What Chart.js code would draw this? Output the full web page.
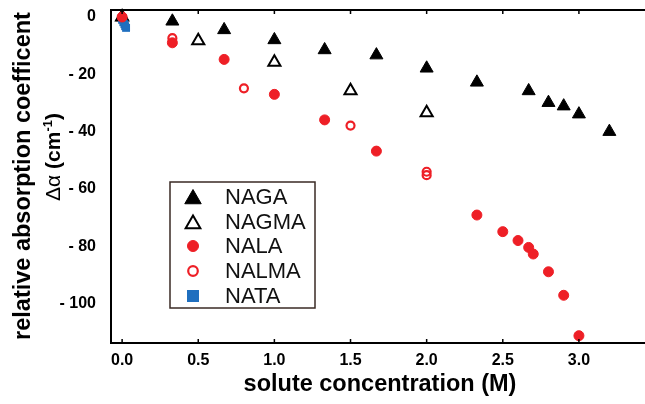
<!DOCTYPE html>
<html>
<head>
<meta charset="utf-8">
<script src="https://cdn.jsdelivr.net/npm/chart.js@4/dist/chart.umd.min.js"></script>
<style>
  html, body { margin: 0; padding: 0; background: #fff; overflow: hidden; }
  #wrap { width: 645px; height: 404px; overflow: hidden; }
  canvas { display: block; }
</style>
</head>
<body>
<div id="wrap"><canvas id="c" width="645" height="404"></canvas></div>
<script>
// ---- data ----
const seriesNames = ["NAGA", "NAGMA", "NALA", "NALMA", "NATA"];

const nagaX  = [0, 0.33, 0.67, 1.0, 1.33, 1.67, 2.0, 2.33, 2.67, 2.8, 2.9, 3.0, 3.2];
const nagaY  = [0, -1.5, -4.5, -8.0, -11.5, -13.3, -17.9, -22.8, -25.8, -29.9, -31.1, -33.9, -40.0];

const nagmaX = [0, 0.5, 1.0, 1.5, 2.0];
const nagmaY = [0, -8.3, -15.8, -25.7, -33.4];

const nalaX  = [0, 0.33, 0.67, 1.0, 1.33, 1.67, 2.33, 2.5, 2.6, 2.67, 2.7, 2.8, 2.9, 3.0];
const nalaY  = [0, -9.0, -14.8, -27.0, -35.9, -46.8, -69.1, -74.9, -78.0, -80.4, -82.7, -88.9, -97.1, -111.2];

const nalmaX = [0, 0.33, 0.8, 1.5, 2.0, 2.0];
const nalmaY = [0, -7.4, -24.9, -37.9, -54.0, -55.2];

const nataX  = [0, 0.008, 0.015, 0.02, 0.026];
const nataY  = [-1.0, -1.8, -2.5, -3.2, -3.8];

const xTicks = [0, 0.5, 1.0, 1.5, 2.0, 2.5, 3.0];
const yTicks = [0, -20, -40, -60, -80, -100];

const xTitle = "solute concentration (M)";
const yTitle1 = "relative absorption coefficent";

// ---- build ----
const pts = (xs, ys) => xs.map((x, i) => ({ x: x, y: ys[i] }));
const RED = '#ee1f26';
const BLUE = '#1f6fbf';
const FAM = '"Liberation Sans", Arial, sans-serif';

const datasets = [
  { label: seriesNames[0], data: pts(nagaX, nagaY), pointStyle: 'triangle', pointRadius: 7.5,
    backgroundColor: '#000', borderColor: '#000', borderWidth: 1, order: 3,
    legendRadius: 9.5 },
  { label: seriesNames[1], data: pts(nagmaX, nagmaY), pointStyle: 'triangle', pointRadius: 7,
    backgroundColor: 'rgba(255,255,255,0)', borderColor: '#000', borderWidth: 2, order: 4,
    legendRadius: 8.5 },
  { label: seriesNames[2], data: pts(nalaX, nalaY), pointStyle: 'circle', pointRadius: 5,
    backgroundColor: RED, borderColor: RED, borderWidth: 1, order: 0,
    legendRadius: 5.5 },
  { label: seriesNames[3], data: pts(nalmaX, nalmaY), pointStyle: 'circle', pointRadius: 4,
    backgroundColor: 'rgba(255,255,255,0)', borderColor: RED, borderWidth: 2.2, order: 1,
    legendRadius: 4.8 },
  { label: seriesNames[4], data: pts(nataX, nataY), pointStyle: 'rect', pointRadius: 5.6,
    backgroundColor: BLUE, borderColor: BLUE, borderWidth: 0, order: 2,
    legendRadius: 8.5 }
];
datasets.forEach(d => { d.showLine = false; d.clip = false; d.pointHoverRadius = d.pointRadius; });

const noPad = s => { s.paddingTop = 0; s.paddingBottom = 0; s.paddingLeft = 0; s.paddingRight = 0; };

const decor = {
  id: 'decor',
  afterDraw(chart) {
    const ctx = chart.ctx;
    const a = chart.chartArea;
    const xs = chart.scales.x;
    ctx.save();
    // top frame line
    ctx.strokeStyle = '#000';
    ctx.lineWidth = 2;
    ctx.beginPath();
    ctx.moveTo(a.left - 1, a.top);
    ctx.lineTo(chart.width, a.top);
    ctx.stroke();
    // inward tick marks on top and bottom
    ctx.lineWidth = 1.5;
    xTicks.forEach(v => {
      const px = xs.getPixelForValue(v);
      ctx.beginPath();
      ctx.moveTo(px, a.top); ctx.lineTo(px, a.top + 4);
      ctx.moveTo(px, a.bottom); ctx.lineTo(px, a.bottom - 4);
      ctx.stroke();
    });

    // axis titles
    ctx.fillStyle = '#000';
    ctx.textAlign = 'center';
    ctx.textBaseline = 'middle';
    ctx.font = 'bold 23.5px ' + FAM;
    ctx.fillText(xTitle, 380, 385);

    ctx.save();
    ctx.translate(24, 176);
    ctx.rotate(-Math.PI / 2);
    ctx.fillText(yTitle1, 0, 0);
    ctx.restore();

    // second y-title line: Δα (cm-1) with superscript
    ctx.save();
    ctx.translate(52, 157);
    ctx.rotate(-Math.PI / 2);
    const parts = [
      { t: 'Δα ', f: '21px ' + FAM, dy: 0 },
      { t: '(cm', f: 'bold 21px ' + FAM, dy: 0 },
      { t: '-1', f: 'bold 13px ' + FAM, dy: -8 },
      { t: ')', f: 'bold 21px ' + FAM, dy: 0 }
    ];
    let total = 0;
    parts.forEach(p => { ctx.font = p.f; p.w = ctx.measureText(p.t).width; total += p.w; });
    let cx = -total / 2;
    ctx.textAlign = 'left';
    ctx.textBaseline = 'alphabetic';
    parts.forEach(p => { ctx.font = p.f; ctx.fillText(p.t, cx, 8 + p.dy); cx += p.w; });
    ctx.restore();

    // legend box
    const bx = 170, by = 182, bw = 145, bh = 126;
    ctx.fillStyle = '#fff';
    ctx.fillRect(bx, by, bw, bh);
    ctx.strokeStyle = '#3a2a24';
    ctx.lineWidth = 1.5;
    ctx.strokeRect(bx, by, bw, bh);
    const rowY = [197, 222, 246, 271, 296];
    ctx.font = '22px ' + FAM;
    ctx.textAlign = 'left';
    ctx.textBaseline = 'middle';
    chart.data.datasets.forEach((d, i) => {
      const y = rowY[i];
      const yy = d.pointStyle === 'triangle' ? y + 2 : y;
      ctx.fillStyle = d.backgroundColor;
      ctx.strokeStyle = d.borderColor;
      ctx.lineWidth = d.borderWidth;
      Chart.helpers.drawPoint(ctx, { pointStyle: d.pointStyle, radius: d.legendRadius, borderWidth: d.borderWidth }, 193, yy);
      ctx.fillStyle = '#111';
      ctx.fillText(d.label, 225, y + 1);
    });
    ctx.restore();
  }
};

new Chart(document.getElementById('c'), {
  type: 'scatter',
  data: { datasets: datasets },
  plugins: [decor],
  options: {
    responsive: false,
    animation: false,
    layout: { autoPadding: false, padding: { top: 10, right: 0, left: 0, bottom: 0 } },
    plugins: { legend: { display: false }, tooltip: { enabled: false } },
    scales: {
      x: {
        type: 'linear',
        min: -0.073, max: 3.434,
        afterBuildTicks: s => { s.ticks = xTicks.map(v => ({ value: v })); },
        afterFit: s => { s.height = 61; noPad(s); },
        grid: { display: false, drawTicks: false },
        border: { display: true, color: '#000', width: 2 },
        ticks: {
          padding: 8,
          color: '#000',
          font: { family: FAM, size: 16, weight: 'bold' },
          maxRotation: 0,
          callback: v => Number(v).toFixed(1)
        }
      },
      y: {
        type: 'linear',
        min: -113.75, max: 2.44,
        afterBuildTicks: s => { s.ticks = yTicks.map(v => ({ value: v })); },
        afterFit: s => { s.width = 111; noPad(s); },
        grid: { display: false, drawTicks: false },
        border: { display: true, color: '#000', width: 2 },
        ticks: {
          padding: 15,
          color: '#000',
          font: { family: FAM, size: 16, weight: 'bold' },
          callback: v => v < 0 ? '- ' + Math.abs(v) : String(v)
        }
      }
    }
  }
});
</script>
</body>
</html>
